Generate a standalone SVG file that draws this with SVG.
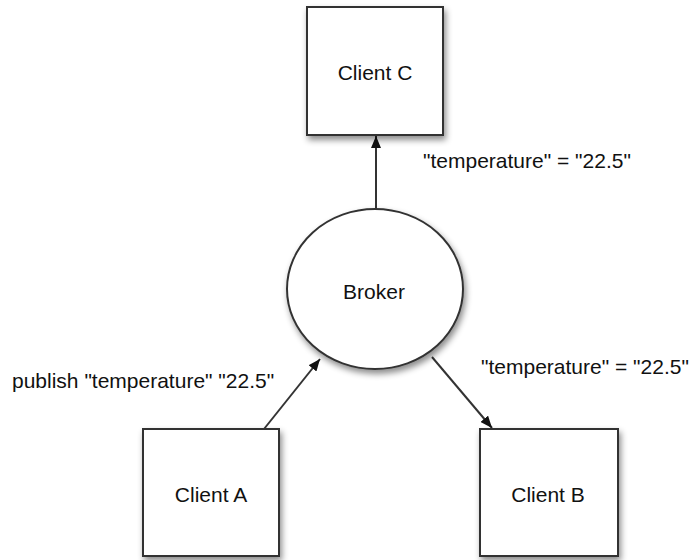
<svg xmlns="http://www.w3.org/2000/svg" width="694" height="560" viewBox="0 0 694 560">
<defs>
<filter id="sh" x="-20%" y="-20%" width="150%" height="150%">
<feDropShadow dx="2" dy="4" stdDeviation="3" flood-color="#000" flood-opacity="0.45"/>
</filter>
<marker id="ah" viewBox="0 0 12 10" refX="12" refY="5" markerWidth="12" markerHeight="10" markerUnits="userSpaceOnUse" orient="auto">
<path d="M0,0 L12,5 L0,10 Z" fill="#111"/>
</marker>
</defs>
<style>
.box{fill:#fff;stroke:#333;stroke-width:2;filter:url(#sh)}
.t{font-family:"Liberation Sans",Arial,sans-serif;font-size:21px;fill:#111}
.c{text-anchor:middle}
.e{stroke:#333;stroke-width:2;fill:none;marker-end:url(#ah)}
</style>
<g id="connectors">
<line class="e" x1="376" y1="210" x2="376" y2="136"/>
<line class="e" x1="264" y1="429" x2="320" y2="359"/>
<line class="e" x1="432" y1="357" x2="492" y2="428"/>
</g>
<g id="clientC">
<rect class="box" x="307" y="7" width="136" height="128"/>
<text class="t c" x="375" y="80">Client C</text>
</g>
<g id="broker">
<ellipse class="box" cx="375" cy="289" rx="88" ry="80"/>
<text class="t c" x="374" y="299">Broker</text>
</g>
<g id="clientA">
<rect class="box" x="143" y="429" width="136" height="127"/>
<text class="t c" x="211" y="502">Client A</text>
</g>
<g id="clientB">
<rect class="box" x="480" y="429" width="138" height="127"/>
<text class="t c" x="548" y="502">Client B</text>
</g>
<g id="labels">
<text class="t" x="423" y="168">"temperature" = "22.5"</text>
<text class="t" x="481" y="374">"temperature" = "22.5"</text>
<text class="t" x="12" y="388">publish "temperature" "22.5"</text>
</g>
</svg>
